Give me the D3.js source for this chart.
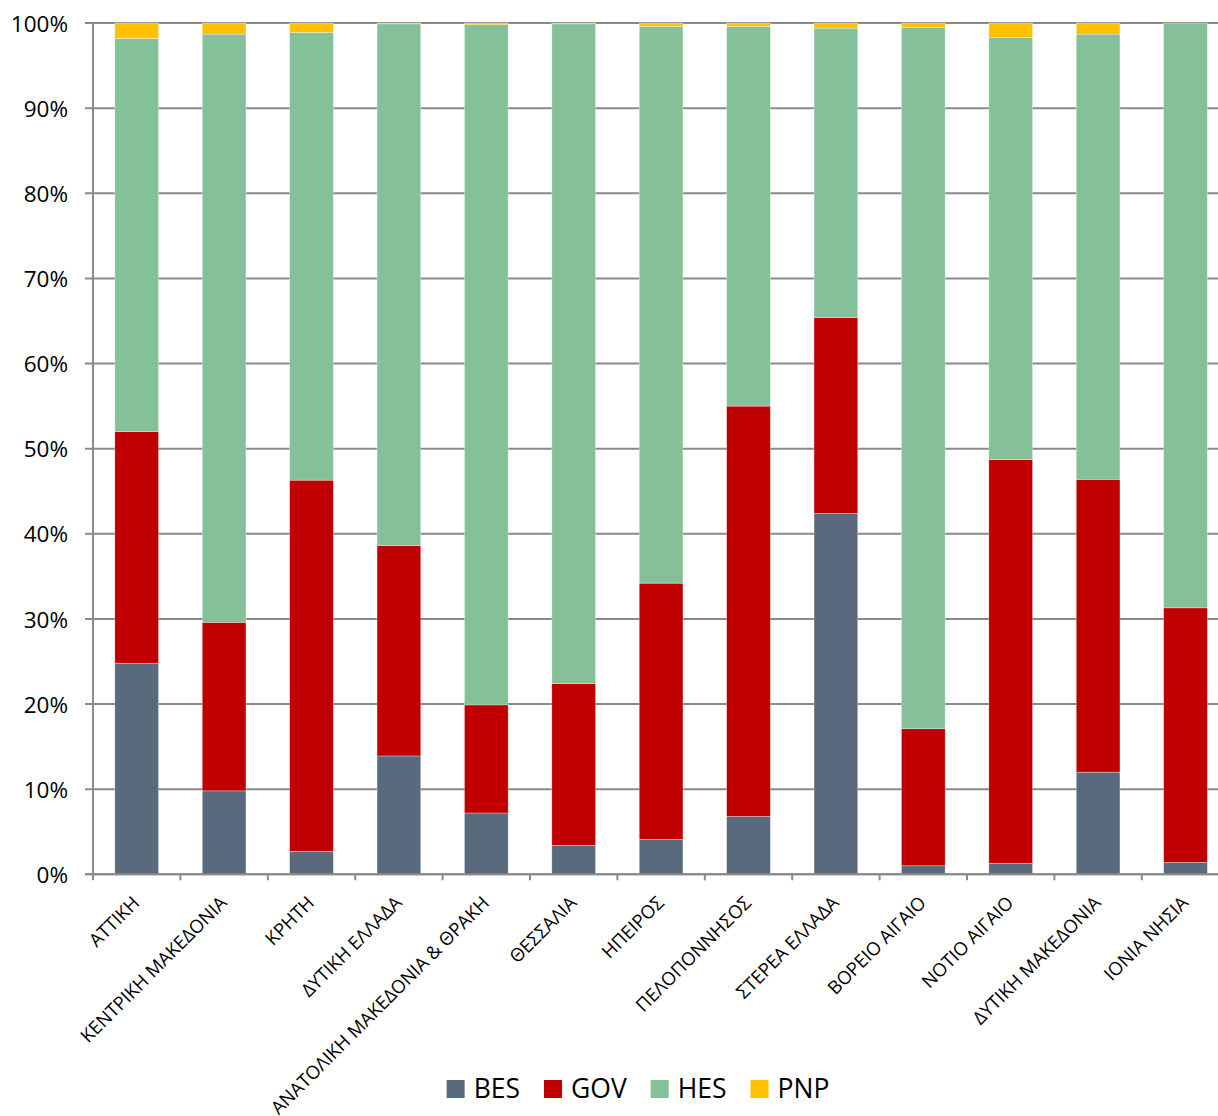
<!DOCTYPE html>
<html>
<head>
<meta charset="utf-8">
<script src="https://cdn.jsdelivr.net/npm/d3@7"></script>
<style>
  html, body { margin: 0; padding: 0; background: #fff; }
  svg { display: block; }
</style>
</head>
<body>
<div id="chart"></div>
<script>
const categories = ["ΑΤΤΙΚΗ", "ΚΕΝΤΡΙΚΗ ΜΑΚΕΔΟΝΙΑ", "ΚΡΗΤΗ", "ΔΥΤΙΚΗ ΕΛΛΑΔΑ", "ΑΝΑΤΟΛΙΚΗ ΜΑΚΕΔΟΝΙΑ & ΘΡΑΚΗ",
  "ΘΕΣΣΑΛΙΑ", "ΗΠΕΙΡΟΣ", "ΠΕΛΟΠΟΝΝΗΣΟΣ", "ΣΤΕΡΕΑ ΕΛΛΑΔΑ", "ΒΟΡΕΙΟ ΑΙΓΑΙΟ", "ΝΟΤΙΟ ΑΙΓΑΙΟ",
  "ΔΥΤΙΚΗ ΜΑΚΕΔΟΝΙΑ", "ΙΟΝΙΑ ΝΗΣΙΑ"];
const seriesNames = ["BES", "GOV", "HES", "PNP"];
const seriesColors = ["#586a7b", "#c00000", "#85c198", "#ffc000"];
const bes = [24.8, 9.8, 2.7, 13.9, 7.2, 3.4, 4.1, 6.8, 42.4, 1.0, 1.3, 12.0, 1.4];
const gov = [27.2, 19.8, 43.6, 24.7, 12.7, 19.0, 30.1, 48.2, 23.0, 16.1, 47.4, 34.4, 29.9];
const hes = [46.2, 69.1, 52.6, 61.3, 79.9, 77.5, 65.4, 44.6, 34.0, 82.4, 49.6, 52.3, 68.7];
const pnp = [1.8, 1.3, 1.1, 0.1, 0.2, 0.1, 0.4, 0.4, 0.6, 0.5, 1.7, 1.3, 0.0];
const yTicks = [0, 0.1, 0.2, 0.3, 0.4, 0.5, 0.6, 0.7, 0.8, 0.9, 1.0];

const W = 1218, H = 1116;
const svg = d3.select("#chart").append("svg").attr("width", W).attr("height", H);

const x = d3.scaleBand().domain(categories).range([93, 1229.2]).paddingInner(0.5).paddingOuter(0.25);
const y = d3.scaleLinear().domain([0, 1]).range([874.3, 23]);

const rows = categories.map((c, i) => ({ cat: c, BES: bes[i], GOV: gov[i], HES: hes[i], PNP: pnp[i] }));
const stacked = d3.stack().keys(seriesNames).offset(d3.stackOffsetExpand)(rows);

const gridColor = "#8a8a8a";
// gridlines + y labels
const yAxis = d3.axisLeft(y).tickValues(yTicks).tickFormat(d3.format(".0%")).tickSize(0).tickPadding(0);
svg.append("g").selectAll("line.grid").data(yTicks).join("line")
  .attr("x1", 85).attr("x2", W).attr("y1", d => y(d)).attr("y2", d => y(d))
  .attr("stroke", gridColor).attr("stroke-width", 2);
const gy = svg.append("g").attr("transform", "translate(68,0)").call(yAxis);
gy.select(".domain").remove();
gy.selectAll("text").attr("font-family", "'Open Sans', sans-serif").attr("font-size", 22.5).attr("fill", "#000").attr("dy", "0.36em");

// y axis line
svg.append("line").attr("x1", 93).attr("x2", 93).attr("y1", y(1)).attr("y2", y(0))
  .attr("stroke", gridColor).attr("stroke-width", 2);

// bars
svg.append("g").selectAll("g").data(stacked).join("g")
  .attr("fill", (d, i) => seriesColors[i])
  .selectAll("rect").data(d => d).join("rect")
  .attr("x", d => x(d.data.cat))
  .attr("width", x.bandwidth())
  .attr("y", d => y(d[1]))
  .attr("height", d => Math.max(0, y(d[0]) - y(d[1])))
  .attr("stroke", "#ffffff").attr("stroke-width", 0.6).attr("stroke-opacity", 0.5);

// x axis
const xAxisY = y(0);
svg.append("line").attr("x1", 85).attr("x2", W).attr("y1", xAxisY).attr("y2", xAxisY)
  .attr("stroke", gridColor).attr("stroke-width", 2);
const tickXs = categories.map(c => x(c) - x.step() * 0.25);
svg.append("g").selectAll("line").data(tickXs).join("line")
  .attr("x1", d => d).attr("x2", d => d).attr("y1", xAxisY).attr("y2", xAxisY + 6)
  .attr("stroke", gridColor).attr("stroke-width", 2);

// category labels
svg.append("g").selectAll("text").data(categories).join("text")
  .attr("transform", d => `translate(${x(d) + x.bandwidth() / 2 + 4},904) rotate(-45)`)
  .attr("text-anchor", "end")
  .attr("font-family", "'Open Sans', sans-serif").attr("font-size", 18.5).attr("fill", "#000")
  .text(d => d);

// legend
const lg = svg.append("g");
const items = lg.selectAll("g").data(seriesNames).join("g");
items.append("rect").attr("width", 18).attr("height", 18).attr("y", 1080).attr("fill", (d, i) => seriesColors[i]);
items.append("text").attr("y", 1098).attr("font-family", "'Open Sans', sans-serif").attr("font-size", 26.5)
  .attr("fill", "#000").text(d => d);
let widths = [];
items.select("text").each(function () { widths.push(this.getComputedTextLength()); });
const total = widths.reduce((a, w) => a + 27 + w, 0) + 24 * (widths.length - 1);
let cx = 638 - total / 2;
items.each(function (d, i) {
  const g = d3.select(this);
  g.select("rect").attr("x", cx);
  g.select("text").attr("x", cx + 27);
  cx += 27 + widths[i] + 24;
});
</script>
</body>
</html>
